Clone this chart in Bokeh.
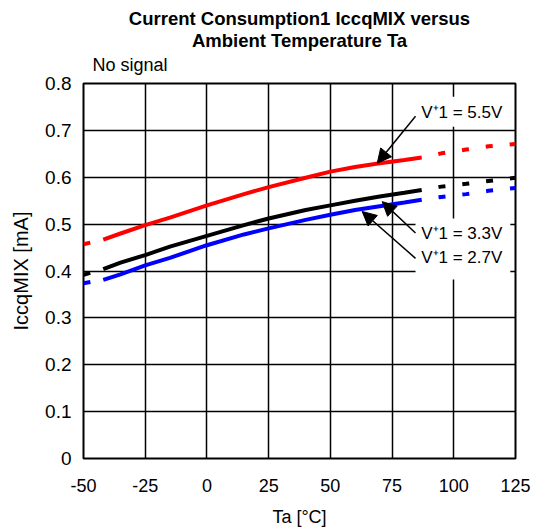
from bokeh.plotting import figure
from bokeh.models import (Range1d, FixedTicker, CustomJSTickFormatter, Label,
                          Arrow, NormalHead, BoxAnnotation, Title)
from bokeh.embed import file_html
from bokeh.resources import INLINE

# ---- data ----
x_ticks = [-50, -25, 0, 25, 50, 75, 100, 125]
y_ticks = [0, 0.1, 0.2, 0.3, 0.4, 0.5, 0.6, 0.7, 0.8]

ta_meas = [-42, -35, -25, -15, 0, 15, 25, 40, 50, 60, 70, 80, 87]
icc_55 = [0.467, 0.480, 0.498, 0.514, 0.540, 0.564, 0.579, 0.599, 0.612, 0.622, 0.630, 0.637, 0.642]
icc_33 = [0.404, 0.418, 0.434, 0.452, 0.475, 0.498, 0.512, 0.530, 0.540, 0.550, 0.559, 0.567, 0.573]
icc_27 = [0.381, 0.393, 0.412, 0.428, 0.455, 0.478, 0.491, 0.509, 0.520, 0.530, 0.538, 0.546, 0.552]

ta_ext_low = [-50, -42]
ext_low_55 = [0.457, 0.467]
ext_low_33 = [0.392, 0.404]
ext_low_27 = [0.374, 0.381]

ta_ext_high = [87, 95, 105, 114, 125]
ext_high_55 = [0.642, 0.651, 0.659, 0.666, 0.671]
ext_high_33 = [0.573, 0.580, 0.586, 0.592, 0.599]
ext_high_27 = [0.552, 0.558, 0.564, 0.571, 0.577]

series = [
    ("V\u207a1 = 5.5V", "#ff0000", icc_55, ext_low_55, ext_high_55),
    ("V\u207a1 = 3.3V", "#000000", icc_33, ext_low_33, ext_high_33),
    ("V\u207a1 = 2.7V", "#0000ff", icc_27, ext_low_27, ext_high_27),
]

title_lines = ["Current Consumption1 IccqMIX versus", "Ambient Temperature Ta"]
condition_text = "No signal"

FONT = "Liberation Sans"

p = figure(width=538, height=530, frame_width=432, frame_height=375,
           x_range=Range1d(-50, 125), y_range=Range1d(0, 0.8),
           output_backend="svg", toolbar_location=None,
           min_border_left=83, min_border_right=23,
           min_border_top=82, min_border_bottom=73)

# outermost title line
p.title.text = title_lines[0]
p.title.align = "center"
p.title.text_font = FONT
p.title.text_font_style = "bold"
p.title.text_font_size = "18.5px"
p.title.text_color = "#000000"
p.title.standoff = 12.3
# closest to the frame: the condition note, then the second title line
p.add_layout(Title(text=condition_text, align="left", offset=9, text_font=FONT,
                   text_font_style="normal", text_font_size="18px",
                   text_color="#000000", standoff=17), "above")
p.add_layout(Title(text=title_lines[1], align="center", text_font=FONT,
                   text_font_style="bold", text_font_size="18.5px",
                   text_color="#000000", standoff=-13.7), "above")

p.outline_line_color = "#000000"
p.outline_line_width = 2
p.outline_line_alpha = 1

for ax in (p.xaxis[0], p.yaxis[0]):
    ax.axis_line_color = None
    ax.major_tick_out = 0
    ax.major_tick_in = 0
    ax.minor_tick_out = 0
    ax.minor_tick_in = 0
    ax.major_label_text_font = FONT
    ax.major_label_text_color = "#000000"
    ax.axis_label_text_font = FONT
    ax.axis_label_text_font_style = "normal"
    ax.axis_label_text_color = "#000000"

p.xaxis.major_label_text_font_size = "18px"
p.yaxis.major_label_text_font_size = "19px"
p.xaxis.axis_label_text_font_size = "18px"
p.yaxis.axis_label_text_font_size = "20px"

p.xaxis.ticker = FixedTicker(ticks=x_ticks)
p.yaxis.ticker = FixedTicker(ticks=y_ticks)
p.xaxis.formatter = CustomJSTickFormatter(code="return tick.toString();")
p.yaxis.formatter = CustomJSTickFormatter(code="return tick == 0 ? '0' : tick.toFixed(1);")
p.xaxis.major_label_standoff = 20
p.yaxis.major_label_standoff = 12
p.xaxis.axis_label = "Ta [°C]"
p.yaxis.axis_label = "IccqMIX [mA]"
p.xaxis.axis_label_standoff = 12
p.yaxis.axis_label_standoff = 10

p.grid.grid_line_color = "#000000"
p.grid.grid_line_width = 1.5
p.grid.grid_line_alpha = 1

for name, color, meas, low, high in series:
    p.line(ta_meas, meas, line_color=color, line_width=4)
    p.line(ta_ext_low, low, line_color=color, line_width=4, line_dash="7 17")
    p.line(ta_ext_high, high, line_color=color, line_width=4,
           line_dash="7 17", line_dash_offset=7)

# white label boxes
p.add_layout(BoxAnnotation(left=84.5, right=122.9, bottom=0.708, top=0.772,
                           fill_color="white", fill_alpha=1, line_alpha=0))
p.add_layout(BoxAnnotation(left=84.5, right=122.9, bottom=0.382, top=0.512,
                           fill_color="white", fill_alpha=1, line_alpha=0))

arrows = [
    (84.5, 0.730, 69.0, 0.630),
    (84.5, 0.481, 71.0, 0.548),
    (84.5, 0.427, 62.9, 0.527),
]
for xs, ys, xe, ye in arrows:
    p.add_layout(Arrow(end=NormalHead(size=14, fill_color="black", line_color="black"),
                       x_start=xs, y_start=ys, x_end=xe, y_end=ye,
                       line_color="black", line_width=1.5))

label_y = [0.738, 0.481, 0.429]
for (name, color, *_), ly in zip(series, label_y):
    p.add_layout(Label(x=86.8, y=ly, text=name, text_font=FONT,
                       text_font_size="17px", text_baseline="middle",
                       text_color="#000000"))

open("out.html", "w").write(file_html(p, INLINE))
